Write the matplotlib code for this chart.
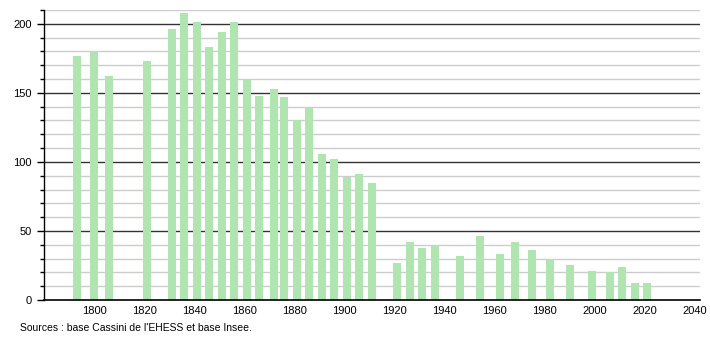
import numpy as np
import matplotlib
matplotlib.use("Agg")
from matplotlib import pyplot as plt
from matplotlib.ticker import MultipleLocator

plt.rcParams['font.family'] = ['Liberation Sans', 'DejaVu Sans']

# census years and population
years = [1793, 1800, 1806, 1821, 1831, 1836, 1841, 1846, 1851, 1856,
         1861, 1866, 1872, 1876, 1881, 1886, 1891, 1896, 1901, 1906,
         1911, 1921, 1926, 1931, 1936, 1946, 1954, 1962, 1968, 1975,
         1982, 1990, 1999, 2006, 2011, 2016, 2021]
population = [177, 180, 162, 173, 196, 208, 201, 183, 194, 201,
              160, 148, 153, 147, 130, 139, 106, 102, 89, 91,
              85, 27, 42, 38, 40, 32, 46, 33, 42, 36,
              30, 25, 21, 20, 24, 12, 12]

xticks = list(range(1800, 2041, 20))
source_text = "Sources : base Cassini de l'EHESS et base Insee."

fig = plt.figure(figsize=(7.1, 3.4), dpi=100)
ax = fig.add_axes([44/710, 1-300/340, 656/710, 290/340])

# grid lines: light every 10, dark every 50
for v in range(10, 211, 10):
    if v % 50 == 0:
        ax.axhline(v, color='#333333', lw=1, zorder=1)
    else:
        ax.axhline(v, color='#cccccc', lw=1, zorder=1)

ax.bar(years, population, width=3.2, color='#b0e4b0', zorder=2)

ax.set_xlim(1780, 2042)
ax.set_ylim(0, 210)
ax.set_xticks(xticks)
ax.yaxis.set_major_locator(MultipleLocator(50))
ax.yaxis.set_minor_locator(MultipleLocator(10))
ax.tick_params(axis='x', length=0, pad=4, labelsize=8)
ax.tick_params(axis='y', which='major', length=5, width=1, pad=4, labelsize=8)
ax.tick_params(axis='y', which='minor', length=3, width=1)

for s in ['top', 'right']:
    ax.spines[s].set_visible(False)
ax.spines['left'].set_linewidth(1)
ax.spines['bottom'].set_linewidth(1.2)
ax.spines['bottom'].set_zorder(3)

fig.text(20/710, 1-328/340, source_text, fontsize=7.5, va='center', ha='left')

plt.savefig("out.png", dpi=100)
